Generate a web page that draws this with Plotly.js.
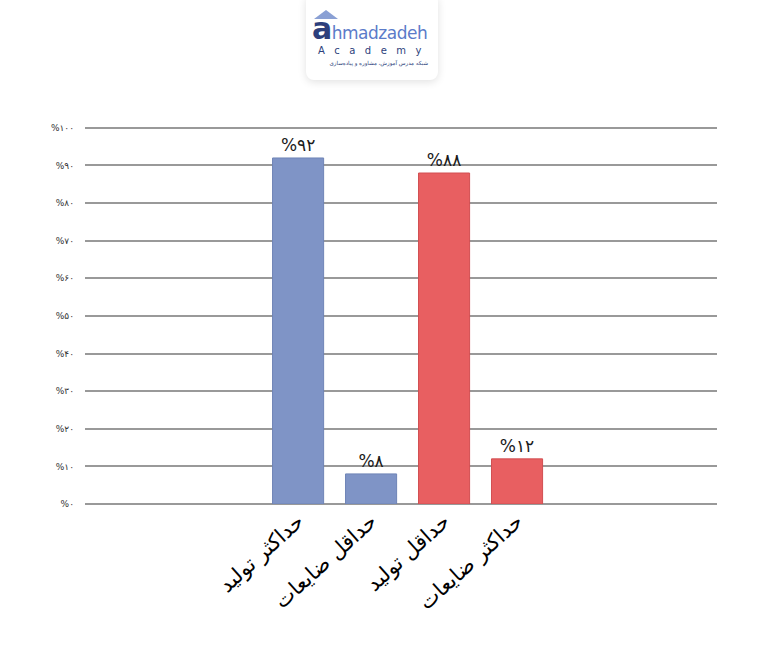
<!DOCTYPE html>
<html>
<head>
<meta charset="utf-8">
<script src="https://cdn.plot.ly/plotly-3.0.1.min.js"></script>
<style>
  body { margin: 0; background: #fff; }
  #wrap { position: relative; width: 767px; height: 672px; }
  #chart { width: 767px; height: 672px; }
  .logo {
    position: absolute; left: 306px; top: -6px; width: 132px; height: 86px;
    background: #fff; border-radius: 8px;
    box-shadow: 0 2px 8px rgba(0,0,0,0.12);
    font-family: 'DejaVu Sans', sans-serif;
  }
  .roof { position: absolute; left: 8px; top: 16px; width: 0; height: 0;
    border-left: 12px solid transparent; border-right: 12px solid transparent;
    border-bottom: 9px solid #8aa0d4; }
  .brand { position: absolute; left: 6px; top: 20px; font-size: 17px; letter-spacing: -0.5px; color: #5b7bc9; line-height: 30px; }
  .brand b { font-size: 30px; color: #2d3f7c; font-weight: bold; }
  .acad { position: absolute; left: 12px; top: 51px; font-size: 10px; letter-spacing: 9.5px; color: #2d3f7c; line-height: 11px; }
  .sub { position: absolute; left: 10px; top: 66px; width: 112px; font-size: 5.5px; color: #2d3f7c; direction: rtl; line-height: 7px; white-space: nowrap; }
</style>
</head>
<body>
<div id="wrap">
  <div id="chart"></div>
  <div class="logo">
    <div class="roof"></div>
    <div class="brand"><b>a</b>hmadzadeh</div>
    <div class="acad">Academy</div>
    <div class="sub">شبکه مدرس آموزش، مشاوره و پیاده‌سازی</div>
  </div>
</div>
<script>
// categories and values
var cats = ['حداکثر تولید', 'حداقل ضایعات', 'حداقل تولید', 'حداکثر ضایعات'];
var blueCats = ['حداکثر تولید', 'حداقل ضایعات'];
var blueVals = [92, 8];
var blueText = ['%۹۲', '%۸'];
var redCats = ['حداقل تولید', 'حداکثر ضایعات'];
var redVals = [88, 12];
var redText = ['%۸۸', '%۱۲'];

var yTicks = [0, 10, 20, 30, 40, 50, 60, 70, 80, 90, 100];
var yTickText = ['%۰', '%۱۰', '%۲۰', '%۳۰', '%۴۰', '%۵۰', '%۶۰', '%۷۰', '%۸۰', '%۹۰', '%۱۰۰'];

var labelFont = {family: 'DejaVu Sans, sans-serif', size: 17, color: '#1a1a1a'};

var trace1 = {
  x: blueCats, y: blueVals, type: 'bar',
  text: blueText, textposition: 'outside', textfont: labelFont,
  marker: {color: '#7f94c6', line: {color: '#6f84b6', width: 1}},
  width: 0.7, cliponaxis: false
};

var trace2 = {
  x: redCats, y: redVals, type: 'bar',
  text: redText, textposition: 'outside', textfont: labelFont,
  marker: {color: '#e85f61', line: {color: '#d24f52', width: 1}},
  width: 0.7, cliponaxis: false
};

var layout = {
  width: 767, height: 672,
  margin: {l: 85, r: 50, t: 126, b: 168},
  showlegend: false,
  plot_bgcolor: '#fff', paper_bgcolor: '#fff',
  barmode: 'overlay',
  font: {family: 'DejaVu Sans, sans-serif'},
  xaxis: {
    type: 'category', categoryorder: 'array', categoryarray: cats,
    range: [-2.92, 5.74], showgrid: false, zeroline: false,
    showline: false, ticks: '', tickangle: -42,
    tickfont: {family: 'DejaVu Sans, sans-serif', size: 21, color: '#000'}
  },
  yaxis: {
    range: [0, 100.5], tickvals: yTicks, ticktext: yTickText,
    showgrid: true, gridcolor: '#999', gridwidth: 1.8,
    zeroline: true, zerolinecolor: '#999', zerolinewidth: 1.8,
    ticks: '', ticklabelstandoff: 10,
    tickfont: {family: 'DejaVu Sans, sans-serif', size: 9, color: '#333'}
  }
};

Plotly.newPlot('chart', [trace1, trace2], layout, {displayModeBar: false});
</script>
</body>
</html>
